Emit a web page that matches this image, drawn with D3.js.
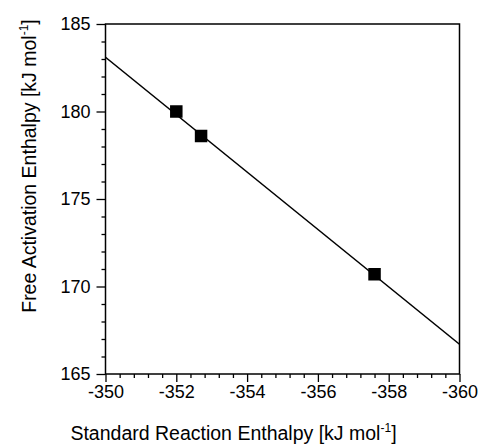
<!DOCTYPE html>
<html lang="en">
<head>
<meta charset="utf-8">
<title>Free activation enthalpy vs standard reaction enthalpy</title>
<script src="https://cdn.jsdelivr.net/npm/d3@7"></script>
<style>
  body { margin: 0; background: #fff; }
  svg text { font-family: "Liberation Sans", Arial, sans-serif; fill: #000; }
</style>
</head>
<body>
<script>
// data
var reactionH = [-352.0, -352.7, -357.6];
var activationH = [180.0, 178.6, 170.7];
// fitted line, ends at the axis limits
var fitX = [-350, -360];
var fitY = [183.1, 166.7];
var xTicks = [-350, -352, -354, -356, -358, -360];
var yTicks = [165, 170, 175, 180, 185];

var w = 481, h = 445;
var mLeft = 105.5, mRight = 459.5, mTop = 24, mBottom = 374;

var x = d3.scaleLinear().domain([-350, -360]).range([mLeft, mRight]);
var y = d3.scaleLinear().domain([165, 185]).range([mBottom, mTop]);

// plain hyphen for negatives, like the original
var fmt = function(d) { return String(d); };

var svg = d3.select("body").append("svg")
  .attr("width", w)
  .attr("height", h);

// minor ticks: 4 between majors
var xMinor = d3.range(1, 25).filter(function(i) { return i % 5 !== 0; })
  .map(function(i) { return -350 - i * 0.4; });
var yMinor = d3.range(165, 185.01, 1).filter(function(v) { return v % 5 !== 0; });

var xAxis = svg.append("g")
  .attr("transform", "translate(0," + mBottom + ")")
  .call(d3.axisBottom(x).tickValues(xTicks).tickSize(8).tickPadding(3).tickFormat(fmt));
svg.append("g")
  .attr("transform", "translate(0," + mBottom + ")")
  .call(d3.axisBottom(x).tickValues(xMinor).tickSize(4).tickFormat(""));

var yAxis = svg.append("g")
  .attr("transform", "translate(" + mLeft + ",0)")
  .call(d3.axisLeft(y).tickValues(yTicks).tickSize(9).tickPadding(6).tickFormat(fmt));
svg.append("g")
  .attr("transform", "translate(" + mLeft + ",0)")
  .call(d3.axisLeft(y).tickValues(yMinor).tickSize(4).tickFormat(""));

svg.selectAll(".domain").remove();
svg.selectAll(".tick line").attr("stroke", "#000").attr("stroke-width", 1.3);
svg.selectAll(".tick text").attr("font-size", 18).attr("fill", "#000");

// frame
svg.append("rect")
  .attr("x", mLeft).attr("y", mTop)
  .attr("width", mRight - mLeft).attr("height", mBottom - mTop)
  .attr("fill", "none").attr("stroke", "#000").attr("stroke-width", 1.5);

// regression line
svg.append("path")
  .datum(d3.zip(fitX, fitY))
  .attr("d", d3.line().x(function(d) { return x(d[0]); }).y(function(d) { return y(d[1]); }))
  .attr("fill", "none")
  .attr("stroke", "#000")
  .attr("stroke-width", 1.6);

// points
var s = 12.5;
svg.selectAll("rect.pt")
  .data(d3.zip(reactionH, activationH))
  .enter()
  .append("rect")
  .attr("class", "pt")
  .attr("x", function(d) { return x(d[0]) - s / 2; })
  .attr("y", function(d) { return y(d[1]) - s / 2; })
  .attr("width", s)
  .attr("height", s)
  .attr("fill", "#000");

// axis titles
var xt = svg.append("text")
  .attr("x", 233.5).attr("y", 440)
  .attr("text-anchor", "middle")
  .attr("font-size", 19.5);
xt.append("tspan").text("Standard Reaction Enthalpy [kJ mol");
xt.append("tspan").attr("font-size", 12).attr("dy", -8).text("-1");
xt.append("tspan").attr("dy", 8).text("]");

var yt = svg.append("text")
  .attr("transform", "translate(36,166) rotate(-90)")
  .attr("text-anchor", "middle")
  .attr("font-size", 19.5);
yt.append("tspan").text("Free Activation Enthalpy [kJ mol");
yt.append("tspan").attr("font-size", 12).attr("dy", -8).text("-1");
yt.append("tspan").attr("dy", 8).text("]");
</script>
</body>
</html>
